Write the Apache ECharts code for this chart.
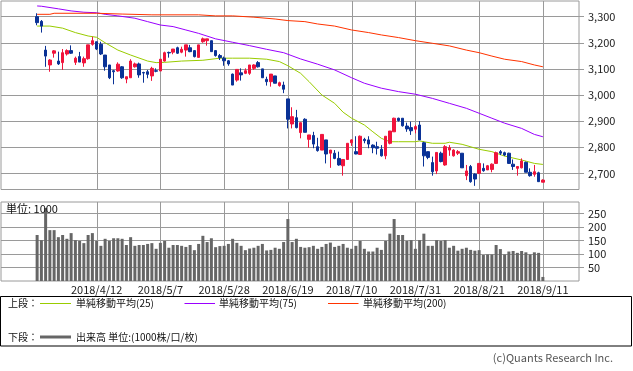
<!DOCTYPE html>
<html><head><meta charset="utf-8">
<script src="https://cdn.jsdelivr.net/npm/echarts@6/dist/echarts.min.js"></script>
<style>html,body{margin:0;padding:0;background:#fff;}#c{width:633px;height:371px;}</style>
</head><body><div id="c"></div>
<script>
// ---- data ----
const opens  = [3300,3282,3172,3115,3160,3130,3124,3157,3170,3125,3147,3123,3139,3194,3204,3194,3153,3115,3093,3092,
                3108,3061,3066,3108,3119,3086,3089,3073,3093,3092,3130,3163,3164,3181,3164,3172,3181,3170,3144,3204,
                3208,3208,3170,3151,3141,3131,3080,3057,3085,3083,3083,3102,3124,3100,3060,3051,3073,3036,3038,2985,
                2889,2913,2856,2907,2830,2845,2802,2789,2828,2777,2777,2757,2729,2753,2817,2783,2772,2830,2828,2808,
                2802,2792,2767,2815,2859,2911,2911,2881,2875,2869,2885,2817,2783,2741,2709,2777,2732,2789,2767,2777,
                2777,2691,2726,2697,2700,2719,2713,2715,2738,2783,2779,2777,2735,2719,2721,2742,2704,2696,2702,2666];
const closes = [3277,3264,3149,3134,3169,3119,3162,3170,3160,3141,3126,3139,3192,3208,3176,3157,3108,3066,3089,3118,
                3066,3070,3130,3119,3077,3084,3079,3102,3091,3137,3162,3161,3176,3160,3175,3192,3166,3147,3192,3215,
                3215,3166,3151,3143,3131,3119,3038,3098,3077,3093,3115,3115,3108,3066,3051,3080,3045,3047,3022,2907,
                2917,2875,2894,2857,2847,2812,2787,2849,2774,2789,2757,2732,2753,2815,2828,2774,2842,2825,2812,2798,
                2796,2767,2842,2862,2911,2902,2882,2870,2863,2879,2828,2767,2761,2706,2780,2745,2802,2798,2789,2783,
                2721,2709,2668,2678,2738,2710,2729,2735,2779,2777,2770,2738,2726,2726,2747,2704,2691,2706,2668,2674];
const lows   = [3267,3239,3108,3089,3143,3115,3096,3151,3157,3115,3126,3108,3135,3189,3172,3153,3093,3061,3041,3089,
                3062,3045,3066,3105,3066,3047,3064,3054,3087,3092,3128,3143,3156,3157,3160,3147,3164,3144,3144,3200,
                3189,3166,3147,3134,3112,3112,3038,3051,3055,3080,3077,3096,3105,3066,3036,3032,3045,3032,3007,2872,
                2872,2872,2834,2857,2798,2796,2783,2789,2738,2721,2754,2729,2691,2753,2805,2773,2772,2815,2796,2777,
                2772,2764,2754,2811,2859,2898,2879,2859,2847,2853,2828,2726,2754,2691,2697,2742,2729,2767,2764,2770,
                2721,2674,2664,2652,2697,2706,2713,2704,2736,2770,2766,2736,2713,2691,2719,2704,2687,2687,2668,2666];
const highs  = [3313,3287,3188,3137,3172,3166,3176,3175,3190,3147,3165,3147,3192,3223,3204,3204,3153,3115,3096,3125,
                3111,3070,3137,3124,3124,3089,3096,3108,3102,3137,3166,3166,3176,3185,3185,3192,3192,3172,3192,3220,
                3215,3208,3172,3157,3147,3134,3082,3098,3102,3102,3115,3118,3130,3100,3070,3080,3073,3051,3051,2985,
                2953,2943,2894,2911,2847,2859,2836,2849,2828,2789,2789,2783,2753,2815,2830,2842,2845,2836,2842,2811,
                2821,2808,2842,2862,2913,2913,2911,2894,2898,2885,2900,2821,2783,2764,2780,2783,2808,2808,2792,2789,
                2777,2732,2732,2700,2738,2738,2732,2738,2783,2789,2783,2779,2753,2726,2757,2745,2719,2732,2706,2677];
const volumes = [170,151,270,188,188,162,170,156,177,151,148,140,170,177,148,130,156,148,158,158,
                 156,133,162,130,133,133,137,140,119,141,148,123,133,133,130,126,133,114,137,167,
                 144,158,125,129,130,137,156,141,130,114,120,123,130,137,113,115,123,119,144,229,
                 144,156,126,123,125,130,119,126,137,142,126,130,137,123,119,130,148,119,109,109,
                 123,115,148,175,229,170,170,148,151,119,151,175,130,130,151,148,151,123,130,112,
                 119,123,115,112,114,96,98,98,133,118,98,109,111,104,111,106,98,106,104,15];
const ma25 = [[0,3264],[3,3264],[6,3256],[9,3239],[12,3226],[14,3221],[16,3200],[19,3172],[22,3153],[26,3130],
              [28,3124],[30,3125],[34,3130],[39,3133],[43,3141],[46,3141],[50,3141],[54,3137],[57,3128],[59,3112],
              [62,3083],[64,3051],[67,3000],[70,2968],[72,2934],[74,2911],[77,2885],[79,2859],[81,2834],[83,2821],
              [85,2821],[89,2821],[90,2824],[93,2815],[96,2815],[97,2819],[100,2811],[104,2792],[107,2783],[110,2766],
              [114,2751],[117,2738],[119,2734]];
const ma75 = [[0,3341],[1,3340],[5,3330],[8,3322],[11,3317],[14,3315],[16,3309],[19,3303],[23,3294],[26,3281],
              [29,3268],[32,3262],[35,3249],[38,3236],[42,3215],[46,3202],[50,3189],[54,3175],[58,3162],[62,3138],
              [66,3118],[70,3096],[74,3066],[77,3045],[81,3026],[85,3013],[89,3003],[93,2987],[97,2968],[101,2949],
              [104,2930],[107,2911],[110,2892],[114,2872],[117,2849],[119,2840]];
const ma200 = [[0,3309],[3,3309],[4,3313],[14,3313],[20,3310],[27,3307],[38,3307],[42,3303],[46,3303],[51,3298],
               [56,3291],[59,3285],[63,3281],[66,3272],[70,3264],[74,3249],[78,3239],[81,3230],[85,3220],[89,3208],
               [93,3198],[97,3188],[101,3172],[104,3162],[107,3149],[110,3137],[114,3128],[117,3115],[119,3108]];
const tickIdx = [14,29,44,59,74,89,104,119];
const tickLabels = ['2018/4/12','2018/5/7','2018/5/28','2018/6/19','2018/7/10','2018/7/31','2018/8/21','2018/9/11'];
const priceTicks = [2700,2800,2900,3000,3100,3200,3300];
const volTicks = [50,100,150,200,250];
const legendNames = ['単純移動平均(25)','単純移動平均(75)','単純移動平均(200)'];

// ---- build ----
const PAD = 8, SLOTS = 136;
const PRICE_MIN = 2638, PRICE_MAX = 3360, VOL_MAX = 292;
const G_LEFT = 1, G_RIGHT = 54, G_W = 633 - G_LEFT - G_RIGHT;
const G1 = {top:1, height:188.5}, G2 = {top:202, height:79};
const FONT = "'Noto Sans CJK JP','Noto Sans',sans-serif";
const UP = '#f0143c', DOWN = '#0a3296';
const C25 = '#99cc00', C75 = '#9a00ff', C200 = '#ff3300';
const GRID = '#9a9a9a';
const cats = Array.from({length: SLOTS}, (_, k) => String(k));
const candle = cats.map((_, k) => { const i = k - PAD; return (i >= 0 && i < opens.length) ? [opens[i], closes[i], lows[i], highs[i]] : ['-','-','-','-']; });
const vol = cats.map((_, k) => { const i = k - PAD; return (i >= 0 && i < volumes.length) ? volumes[i] : '-'; });
const shift = arr => arr.map(p => [p[0] + PAD, p[1]]);
const comma = v => String(v).replace(/\B(?=(\d{3})+(?!\d))/g, ',');

const halfCats = Array.from({length: 2 * SLOTS + 1}, (_, j) => String(j));
const halfMarks = tickIdx.map(i => 2 * (i + PAD) + 1);
const isMark = j => halfMarks.indexOf(j) >= 0;

const hiddenCat = g => ({type:'category', gridIndex:g, data:cats, boundaryGap:true, position:'top',
  axisLine:{show:false}, axisTick:{show:false}, axisLabel:{show:false}, splitLine:{show:false}});
const labelAxis = (g, labels) => ({
  type:'category', gridIndex:g, data:halfCats, boundaryGap:false, position:'bottom',
  axisLine:{show:false}, axisTick:{show:false},
  axisLabel:{show:labels, interval:(j) => isMark(j),
             formatter:(v) => { const k = halfMarks.indexOf(Number(v)); return k >= 0 ? tickLabels[k] : ''; },
             color:'#222', fontSize:11, fontFamily:FONT, margin:3},
  splitLine:{show:false}
});
const yAx = (g, min, max, ticks, fmt) => ({
  type:'value', gridIndex:g, position:'right', min:min, max:max, scale:true,
  axisLine:{show:false},
  axisTick:{show:true, length:5, lineStyle:{color:GRID}, customValues:ticks},
  axisLabel:{customValues:ticks, formatter:fmt, color:'#222', fontSize:11, fontFamily:FONT, margin:9},
  splitLine:{show:true, lineStyle:{color:GRID, width:1}}
});
const lineS = (pts, color) => ({type:'line', xAxisIndex:0, yAxisIndex:0, data:shift(pts), symbol:'none',
  lineStyle:{color:color, width:1}, itemStyle:{color:color}, z:3, silent:true});

const txt = (x, y, t, size, extra) => Object.assign({type:'text', x:x, y:y,
  style:{text:t, fill:'#111', font: size + 'px ' + FONT, textVerticalAlign:'middle', verticalAlign:'middle'}}, extra||{});
const seg = (x1, x2, y, color, w) => ({type:'line', shape:{x1:x1, y1:y, x2:x2, y2:y}, style:{stroke:color, lineWidth:w}});

const chart = echarts.init(document.getElementById('c'), null, {renderer:'canvas'});
chart.setOption({
  animation:false,
  backgroundColor:'#fff',
  grid:[
    {left:G_LEFT, right:G_RIGHT, top:G1.top, height:G1.height, show:true, borderColor:GRID, borderWidth:1,
     backgroundColor:'rgba(0,0,0,0)', outerBoundsMode:'none'},
    {left:G_LEFT, right:G_RIGHT, top:G2.top, height:G2.height, show:true, borderColor:GRID, borderWidth:1,
     backgroundColor:'rgba(0,0,0,0)', outerBoundsMode:'none'}
  ],
  xAxis:[hiddenCat(0), hiddenCat(1), labelAxis(0, false), labelAxis(1, true)],
  yAxis:[yAx(0, PRICE_MIN, PRICE_MAX, priceTicks, comma), yAx(1, 0, VOL_MAX, volTicks, v => String(v))],
  series:[
    {type:'candlestick', xAxisIndex:0, yAxisIndex:0, data:candle, barWidth:3,
     itemStyle:{color:UP, color0:DOWN, borderColor:UP, borderColor0:DOWN, borderWidth:1}, z:4},
    lineS(ma25, C25), lineS(ma75, C75), lineS(ma200, C200),
    {type:'bar', xAxisIndex:1, yAxisIndex:1, data:vol, barWidth:3, itemStyle:{color:'#666666'}, z:2}
  ]
});

// vertical date grid lines at the bar centres of the tick dates (taken from the category axis)
const tickX = (xi, i) => {
  let x = NaN;
  try { x = Number(chart.convertToPixel({xAxisIndex: xi}, cats[i + PAD])); } catch (e) {}
  if (!isFinite(x) || x < G_LEFT || x > G_LEFT + G_W) x = G_LEFT + (i + PAD + 0.5) * G_W / SLOTS;
  return Math.round(x) + 0.5;
};
const vlines = [];
[[0, G1], [1, G2]].forEach(([xi, g]) => {
  tickIdx.forEach(i => {
    const x = tickX(xi, i);
    vlines.push({type:'line', silent:true, z:1.9, shape:{x1:x, y1:g.top, x2:x, y2:g.top + g.height},
                 style:{stroke:GRID, lineWidth:1}});
  });
});

chart.setOption({
  graphic: vlines.concat([
    txt(6, 209, '単位: 1000', 11, {z:100}),
    {type:'rect', shape:{x:0.5, y:296.5, width:631, height:49.5}, style:{fill:'none', stroke:'#000', lineWidth:1}},
    txt(8, 303.5, '上段：', 10),
    seg(40, 71, 303.5, C25, 1), txt(76, 303.5, legendNames[0], 10),
    seg(184.5, 215, 303.5, C75, 1), txt(219, 303.5, legendNames[1], 10),
    seg(328, 358.5, 303.5, C200, 1), txt(363, 303.5, legendNames[2], 10),
    txt(8, 337, '下段：', 10),
    seg(40, 71, 337, '#666666', 3), txt(76, 337, '出来高 単位:(1000株/口/枚)', 10),
    {type:'text', x:613, y:357.5, style:{text:'(c)Quants Research Inc.', fill:'#555', font:'11px ' + FONT,
      textAlign:'right', align:'right', textVerticalAlign:'middle', verticalAlign:'middle'}}
  ])
});
</script></body></html>
